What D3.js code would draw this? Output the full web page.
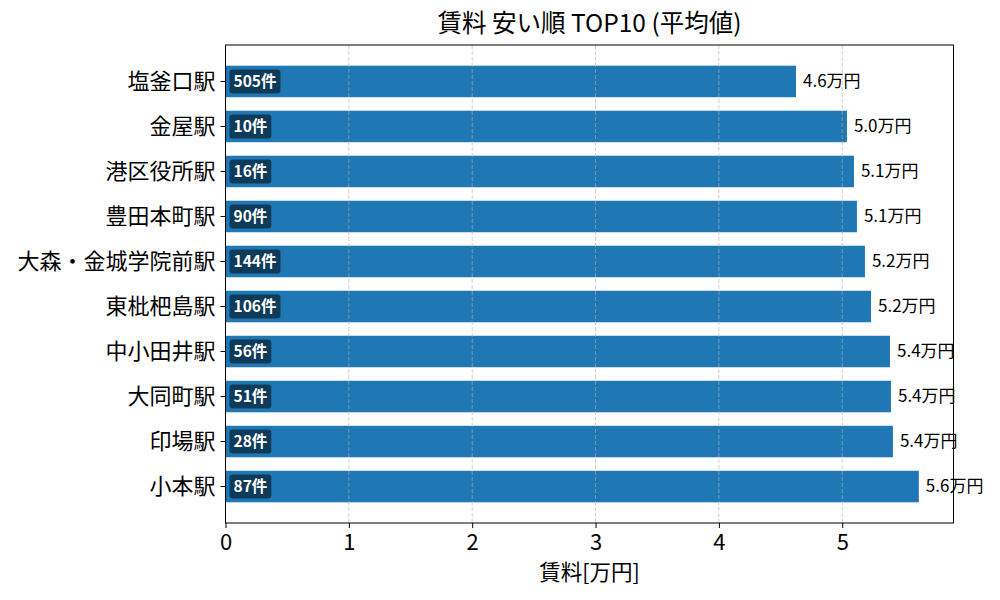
<!DOCTYPE html>
<html>
<head>
  <meta charset="UTF-8">
  <title>賃料 安い順 TOP10</title>
  <style>
    body { margin: 0; background: #fff; }
  </style>
</head>
<body>
<svg></svg>
<script src="https://d3js.org/d3.v7.min.js"></script>
<script>
    let width = 1000, height = 600;
    let font = "'Noto Sans CJK JP', 'Noto Sans', sans-serif";

    // data
    var stations = ["塩釜口駅", "金屋駅", "港区役所駅", "豊田本町駅", "大森・金城学院前駅",
                    "東枇杷島駅", "中小田井駅", "大同町駅", "印場駅", "小本駅"];
    var rents = [4.625, 5.038, 5.095, 5.119, 5.184, 5.233, 5.387, 5.395, 5.411, 5.621];
    var counts = [505, 10, 16, 90, 144, 106, 56, 51, 28, 87];
    var xTicks = [0, 1, 2, 3, 4, 5];

    let margin = {left: 225.5, right: 46.5, top: 45, bottom: 77};

    let svg = d3.select("svg")
        .attr("width", width)
        .attr("height", height)
        .attr("viewBox", "0 0 " + width + " " + height)
        .attr("font-family", font);

    let x = d3.scaleLinear()
        .domain([0, d3.max(rents) * 1.05])
        .range([margin.left, width - margin.right]);

    let y = d3.scaleBand()
        .domain(stations)
        .range([margin.top, height - margin.bottom])
        .paddingInner(0.3)
        .paddingOuter(0.46);

    // bars
    svg.append("g")
        .selectAll("rect")
        .data(stations)
        .enter()
        .append("rect")
        .attr("x", x(0))
        .attr("y", d => y(d))
        .attr("width", (d, i) => x(rents[i]) - x(0))
        .attr("height", y.bandwidth())
        .attr("fill", "#1f77b4");

    // vertical grid (drawn over bars like the original)
    svg.append("g")
        .selectAll("line")
        .data(xTicks)
        .enter()
        .append("line")
        .attr("x1", d => x(d))
        .attr("x2", d => x(d))
        .attr("y1", margin.top)
        .attr("y2", height - margin.bottom)
        .attr("stroke", "#b0b0b0")
        .attr("stroke-opacity", 0.6)
        .attr("stroke-width", 1)
        .attr("stroke-dasharray", "4,2");

    // value labels
    svg.append("g")
        .selectAll("text")
        .data(stations)
        .enter()
        .append("text")
        .attr("x", (d, i) => x(rents[i]) + 7)
        .attr("y", d => y(d) + y.bandwidth() / 2)
        .attr("dy", "0.33em")
        .attr("font-size", 17)
        .attr("fill", "#000")
        .text((d, i) => rents[i].toFixed(1) + "万円");

    // count badges inside bars
    let badges = svg.append("g")
        .selectAll("g")
        .data(stations)
        .enter()
        .append("g");

    badges.append("rect").attr("class", "badge");
    badges.append("text")
        .attr("x", x(0) + 8)
        .attr("y", d => y(d) + y.bandwidth() / 2)
        .attr("dy", "0.35em")
        .attr("font-size", 15.5)
        .attr("font-weight", "bold")
        .attr("fill", "#fff")
        .text((d, i) => counts[i] + "件");

    badges.each(function(d) {
        let g = d3.select(this);
        let w = g.select("text").node().getComputedTextLength();
        g.select("rect")
            .attr("x", x(0) + 4)
            .attr("y", y(d) + y.bandwidth() / 2 - 12)
            .attr("width", w + 8)
            .attr("height", 24)
            .attr("rx", 3)
            .attr("fill", "#000")
            .attr("fill-opacity", 0.5);
    });

    // axes
    let xAxis = svg.append("g")
        .attr("transform", "translate(0," + (height - margin.bottom) + ")")
        .call(d3.axisBottom(x).tickValues(xTicks).tickFormat(d3.format("d")).tickSizeOuter(0).tickSize(5).tickPadding(6));
    xAxis.attr("font-family", font).attr("font-size", null);
    xAxis.selectAll("text").attr("font-size", 22).attr("fill", "#000");
    xAxis.select(".domain").remove();

    let yAxis = svg.append("g")
        .attr("transform", "translate(" + margin.left + ",0)")
        .call(d3.axisLeft(y).tickSize(5).tickPadding(5).tickSizeOuter(0));
    yAxis.attr("font-family", font).attr("font-size", null);
    yAxis.selectAll("text").attr("font-size", 22).attr("fill", "#000");
    yAxis.select(".domain").remove();

    // frame
    svg.append("rect")
        .attr("x", margin.left)
        .attr("y", margin.top)
        .attr("width", width - margin.left - margin.right)
        .attr("height", height - margin.top - margin.bottom)
        .attr("fill", "none")
        .attr("stroke", "#000")
        .attr("stroke-width", 1);

    // title and axis label
    svg.append("text")
        .attr("x", (margin.left + width - margin.right) / 2)
        .attr("y", 32)
        .attr("text-anchor", "middle")
        .attr("font-size", 24.5)
        .text("賃料 安い順 TOP10 (平均値)");

    svg.append("text")
        .attr("x", (margin.left + width - margin.right) / 2)
        .attr("y", 580)
        .attr("text-anchor", "middle")
        .attr("font-size", 21.5)
        .text("賃料[万円]");
</script>
</body>
</html>
